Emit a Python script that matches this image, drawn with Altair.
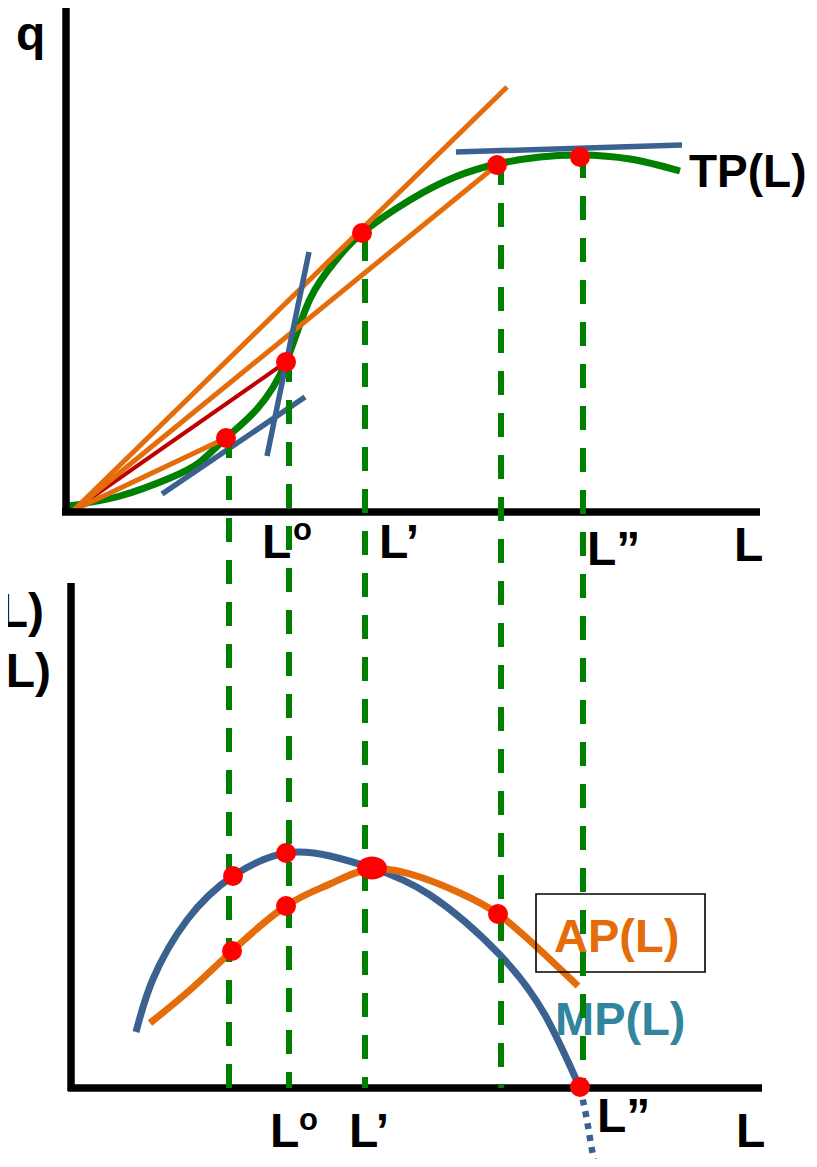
import altair as alt
import pandas as pd

# ---- data (diagram coordinates; y grows downward) ----
# Total product curve TP(L)
tp_L = [68, 120, 170, 200, 226, 257, 286, 310, 337, 362, 410, 455, 497, 540, 580, 630, 680]
tp_q = [506, 496, 478, 462, 438, 409, 362, 299, 259, 233, 200, 177, 164, 157, 155, 159, 171]

# Marginal product MP(L)
mp_L = [136, 153, 187, 233, 286, 330, 372, 430, 500, 545, 580]
mp_v = [1032, 979, 920, 876, 853, 856, 868, 895, 955, 1015, 1088]
mp_tail_L = [580, 586, 592, 596]
mp_tail_v = [1088, 1115, 1150, 1170]

# Average product AP(L)
ap_L = [150, 190, 232, 286, 330, 372, 420, 460, 498, 540, 578]
ap_v = [1023, 990, 951, 906, 884, 869, 877, 893, 914, 950, 986]

# Axes segments (x1, y1, x2, y2)
ax_x1 = [66, 62, 71, 68]
ax_y1 = [6, 512, 583, 1088]
ax_x2 = [66, 760, 71, 762]
ax_y2 = [515, 512, 1091, 1088]

# Tangent lines (blue)
tg_x1 = [162, 267, 456]
tg_y1 = [494, 456, 152]
tg_x2 = [305, 309, 682]
tg_y2 = [397, 252, 145]

# Rays from the origin (orange)
ray_x1 = [74, 74, 74]
ray_y1 = [510, 510, 510]
ray_x2 = [226, 507, 497]
ray_y2 = [438, 87, 165]
# Ray to the inflection point (red)
red_x1 = [74]
red_y1 = [510]
red_x2 = [286]
red_y2 = [362]

# Dashed verticals
dv_x = [229, 289, 365, 501, 583]
dv_top = [434, 358, 237, 161, 154]
dv_bot = [1088, 1088, 1088, 1088, 1088]

# Red points
dot_x = [226, 286, 362, 497, 580, 233, 286, 286, 232, 498, 580]
dot_y = [438, 362, 233, 165, 157, 876, 853, 906, 951, 914, 1087]
# Elongated point where MP meets AP
ell_x = [372]
ell_y = [868]

# Labels
lab_text = ["q", "L", "L\u2019", "L\u201d", "L", "L", "L\u2019", "L\u201d", "L"]
lab_x = [16, 262, 379, 587, 734, 270, 349, 597, 736]
lab_y = [50, 558, 558, 565, 561, 1147, 1147, 1132, 1147]
tp_lab_x, tp_lab_y = [689], [187]
sup_text = ["o", "o"]
sup_x = [293, 299]
sup_y = [540, 1130]
cut_text = ["AP(L)", "MP(L)"]
cut_x = [44, 51]
cut_y = [627, 687]
ap_lab_x, ap_lab_y = [554], [952]
mp_lab_x, mp_lab_y = [555], [1035]
box_x1, box_y1, box_x2, box_y2 = [536], [894], [705], [972]

# ---- scales ----
XS = alt.Scale(domain=[8, 809], nice=False, zero=False)
YS = alt.Scale(domain=[8, 1159], reverse=True, nice=False, zero=False)

def X(f):
    return alt.X(f, type="quantitative", scale=XS, axis=None)

def Y(f):
    return alt.Y(f, type="quantitative", scale=YS, axis=None)

def segs(x1, y1, x2, y2):
    return pd.DataFrame({"x": x1, "y": y1, "x2": x2, "y2": y2})

GREEN = "#008000"
ORANGE = "#E46C0A"
BLUE = "#3A6190"
TEAL = "#31859C"
FONT = "Liberation Sans"
ELLIPSE = ("M 1.3 0 C 1.3 0.5523 0.718 1 0 1 C -0.718 1 -1.3 0.5523 -1.3 0 "
           "C -1.3 -0.5523 -0.718 -1 0 -1 C 0.718 -1 1.3 -0.5523 1.3 0 Z")

tp = alt.Chart(pd.DataFrame({"x": tp_L, "y": tp_q})).mark_line(
    color=GREEN, strokeWidth=7, interpolate="natural", clip=True
).encode(x=X("x"), y=Y("y"))

red_ray = alt.Chart(segs(red_x1, red_y1, red_x2, red_y2)).mark_rule(
    color="#C00000", strokeWidth=4, clip=True
).encode(x=X("x"), y=Y("y"), x2="x2", y2="y2")

rays = alt.Chart(segs(ray_x1, ray_y1, ray_x2, ray_y2)).mark_rule(
    color=ORANGE, strokeWidth=5, clip=True
).encode(x=X("x"), y=Y("y"), x2="x2", y2="y2")

tangents = alt.Chart(segs(tg_x1, tg_y1, tg_x2, tg_y2)).mark_rule(
    color=BLUE, strokeWidth=5.5, clip=True
).encode(x=X("x"), y=Y("y"), x2="x2", y2="y2")

mp = alt.Chart(pd.DataFrame({"x": mp_L, "y": mp_v})).mark_line(
    color=BLUE, strokeWidth=7, interpolate="natural", clip=True
).encode(x=X("x"), y=Y("y"))

mp_tail = alt.Chart(pd.DataFrame({"x": mp_tail_L, "y": mp_tail_v})).mark_line(
    color=BLUE, strokeWidth=6.5, strokeDash=[6, 6], interpolate="monotone", clip=True
).encode(x=X("x"), y=Y("y"))

ap = alt.Chart(pd.DataFrame({"x": ap_L, "y": ap_v})).mark_line(
    color=ORANGE, strokeWidth=7, interpolate="natural", clip=True
).encode(x=X("x"), y=Y("y"))

axes = alt.Chart(segs(ax_x1, ax_y1, ax_x2, ax_y2)).mark_rule(
    color="black", strokeWidth=7.5, clip=True
).encode(x=X("x"), y=Y("y"), x2="x2", y2="y2")

box = alt.Chart(segs(box_x1, box_y1, box_x2, box_y2)).mark_rect(
    filled=False, stroke="black", strokeWidth=1.6, clip=True
).encode(x=X("x"), y=Y("y"), x2="x2", y2="y2")

labels = alt.Chart(pd.DataFrame({"t": lab_text, "x": lab_x, "y": lab_y})).mark_text(
    font=FONT, fontWeight="bold", fontSize=48, align="left", baseline="alphabetic",
    color="black", clip=True
).encode(x=X("x"), y=Y("y"), text="t:N")

tp_lab = alt.Chart(pd.DataFrame({"t": ["TP(L)"], "x": tp_lab_x, "y": tp_lab_y})).mark_text(
    font=FONT, fontWeight="bold", fontSize=46, align="left", baseline="alphabetic",
    color="black", clip=True
).encode(x=X("x"), y=Y("y"), text="t:N")

sups = alt.Chart(pd.DataFrame({"t": sup_text, "x": sup_x, "y": sup_y})).mark_text(
    font=FONT, fontWeight="bold", fontSize=31, align="left", baseline="alphabetic",
    color="black", clip=True
).encode(x=X("x"), y=Y("y"), text="t:N")

cut = alt.Chart(pd.DataFrame({"t": cut_text, "x": cut_x, "y": cut_y})).mark_text(
    font=FONT, fontWeight="bold", fontSize=48, align="right", baseline="alphabetic",
    color="black", clip=True
).encode(x=X("x"), y=Y("y"), text="t:N")

ap_lab = alt.Chart(pd.DataFrame({"t": ["AP(L)"], "x": ap_lab_x, "y": ap_lab_y})).mark_text(
    font=FONT, fontWeight="bold", fontSize=47, align="left", baseline="alphabetic",
    color=ORANGE, clip=True
).encode(x=X("x"), y=Y("y"), text="t:N")

mp_lab = alt.Chart(pd.DataFrame({"t": ["MP(L)"], "x": mp_lab_x, "y": mp_lab_y})).mark_text(
    font=FONT, fontWeight="bold", fontSize=47, align="left", baseline="alphabetic",
    color=TEAL, clip=True
).encode(x=X("x"), y=Y("y"), text="t:N")

dashes = alt.Chart(segs(dv_x, dv_top, dv_x, dv_bot)).mark_rule(
    color=GREEN, strokeWidth=6, strokeDash=[24, 18], clip=True
).encode(x=X("x"), y=Y("y"), x2="x2", y2="y2")

dots = alt.Chart(pd.DataFrame({"x": dot_x, "y": dot_y})).mark_circle(
    color="#FF0000", size=400, opacity=1, clip=True
).encode(x=X("x"), y=Y("y"))

ell = alt.Chart(pd.DataFrame({"x": ell_x, "y": ell_y})).mark_point(
    shape=ELLIPSE, filled=True, color="#FF0000", size=529, opacity=1, strokeWidth=0, clip=True
).encode(x=X("x"), y=Y("y"))

chart = alt.layer(
    tp, red_ray, rays, tangents, mp, mp_tail, ap, axes, box,
    labels, tp_lab, sups, cut, ap_lab, mp_lab, dashes, dots, ell
).properties(
    width=801, height=1151, padding=0,
    autosize=alt.AutoSizeParams(type="none")
).configure_view(strokeWidth=0)

chart.save("out.html", embed_options={"renderer": "svg", "actions": False})
